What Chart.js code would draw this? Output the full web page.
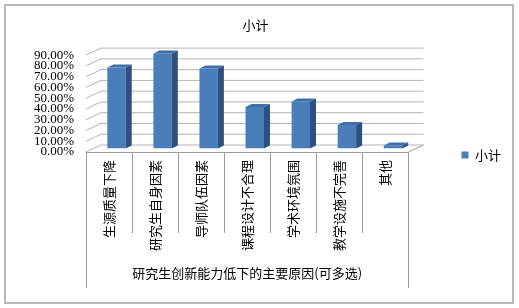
<!DOCTYPE html>
<html>
<head>
<meta charset="utf-8">
<script src="https://cdn.jsdelivr.net/npm/chart.js@4/dist/chart.umd.min.js"></script>
<style>
  html, body { margin: 0; padding: 0; background: #fff; }
  canvas { display: block; }
</style>
</head>
<body>
<canvas id="c" width="519" height="308"></canvas>
<script>
// Survey: main reasons for low innovation ability of graduate students (multiple choice)
const categories = ['生源质量下降', '研究生自身因素', '导师队伍因素', '课程设计不合理', '学术环境氛围', '教学设施不完善', '其他'];
const seriesName = '小计';
const seriesValues = [0.753, 0.883, 0.744, 0.385, 0.436, 0.219, 0.028];
const groupLabel = '研究生创新能力低下的主要原因(可多选)';
const chartTitle = '小计';

const CJK = '"Noto Sans CJK SC", "Noto Sans", sans-serif';
const SERIF = '"Liberation Serif", "DejaVu Serif", serif';

// perspective offsets: back wall relative to front plane, bars sit half way
const WALL_DX = 15, WALL_DY = -7;
const BAR_DX = 7.5, BAR_DY = -3.5;
const DEPTH_DX = 6, DEPTH_DY = -3;

const GRID = '#b4b4b4';
const AXIS = '#9c9c9c';

const walls3d = {
  id: 'walls3d',
  beforeDraw(chart) {
    const ctx = chart.ctx;
    ctx.save();
    ctx.fillStyle = '#fff';
    ctx.fillRect(0, 0, chart.width, chart.height);
    ctx.strokeStyle = '#b8b8b8';
    ctx.lineWidth = 2;
    ctx.strokeRect(5, 5, 508, 298);
    ctx.restore();
  },
  beforeDatasetsDraw(chart) {
    const ctx = chart.ctx;
    const y = chart.scales.y, x = chart.scales.x;
    const L = chart.chartArea.left, R = chart.chartArea.right, B = chart.chartArea.bottom;
    ctx.save();
    ctx.lineWidth = 1;
    ctx.strokeStyle = GRID;
    y.ticks.forEach(t => {
      const py = y.getPixelForValue(t.value);
      ctx.beginPath();
      ctx.moveTo(L, py);
      ctx.lineTo(L + WALL_DX, py + WALL_DY);
      ctx.lineTo(R + WALL_DX, py + WALL_DY);
      ctx.stroke();
    });
    // floor right edge
    ctx.strokeStyle = AXIS;
    ctx.beginPath();
    ctx.moveTo(R, B);
    ctx.lineTo(R + WALL_DX, B + WALL_DY);
    ctx.stroke();
    // front category axis
    ctx.beginPath();
    ctx.moveTo(L, Math.round(B) + 0.5);
    ctx.lineTo(R, Math.round(B) + 0.5);
    ctx.stroke();
    // category separators
    const n = categories.length;
    for (let i = 0; i <= n; i++) {
      const px = Math.round(L + (R - L) * i / n) + 0.5;
      const outer = (i === 0 || i === n);
      ctx.beginPath();
      ctx.moveTo(px, B);
      ctx.lineTo(px, outer ? x.bottom : B + 81);
      ctx.stroke();
    }
    ctx.restore();
    ctx.save();
    ctx.translate(BAR_DX, BAR_DY);
  },
  afterDatasetsDraw(chart) {
    const ctx = chart.ctx;
    const meta = chart.getDatasetMeta(0);
    meta.data.forEach(bar => {
      const p = bar.getProps(['x', 'y', 'base', 'width'], true);
      const l = p.x - p.width / 2, r = p.x + p.width / 2;
      // side face
      ctx.fillStyle = '#2d5080';
      ctx.beginPath();
      ctx.moveTo(r, p.y);
      ctx.lineTo(r + DEPTH_DX, p.y + DEPTH_DY);
      ctx.lineTo(r + DEPTH_DX, p.base + DEPTH_DY);
      ctx.lineTo(r, p.base);
      ctx.closePath();
      ctx.fill();
      // top face
      ctx.fillStyle = '#3f6ea8';
      ctx.beginPath();
      ctx.moveTo(l, p.y);
      ctx.lineTo(r, p.y);
      ctx.lineTo(r + DEPTH_DX, p.y + DEPTH_DY);
      ctx.lineTo(l + DEPTH_DX, p.y + DEPTH_DY);
      ctx.closePath();
      ctx.fill();
    });
    ctx.restore();
  }
};

new Chart(document.getElementById('c'), {
  type: 'bar',
  data: {
    labels: categories,
    datasets: [{
      label: seriesName,
      data: seriesValues,
      backgroundColor: '#4a7ebb',
      borderWidth: 0,
      categoryPercentage: 1,
      barPercentage: 0.4
    }]
  },
  options: {
    responsive: false,
    animation: false,
    layout: { padding: { left: 0, right: 8, top: 0, bottom: 20 } },
    plugins: {
      title: {
        display: true,
        text: chartTitle,
        color: '#000',
        font: { family: CJK, size: 13, weight: 'normal' },
        padding: { top: 17, bottom: 22.5 }
      },
      legend: {
        position: 'right',
        align: 'center',
        title: {
          display: true,
          text: ' ',
          font: { size: 10 },
          padding: { top: 10, bottom: 0 }
        },
        labels: {
          boxWidth: 7,
          boxHeight: 7,
          padding: 10,
          color: '#000',
          font: { family: CJK, size: 13 }
        }
      },
      tooltip: { enabled: false }
    },
    scales: {
      x: {
        grid: { display: false, drawTicks: false },
        border: { display: false },
        ticks: {
          autoSkip: false,
          minRotation: 90,
          maxRotation: 90,
          padding: 8,
          color: '#000',
          font: { family: CJK, size: 13 }
        },
        title: {
          display: true,
          text: groupLabel,
          color: '#000',
          font: { family: CJK, size: 13 },
          padding: { top: 0, bottom: 7 }
        },
        afterFit(s) { s.height = 136; }
      },
      y: {
        min: 0,
        max: 0.9,
        grid: { display: false, drawTicks: false },
        border: { display: false },
        ticks: {
          stepSize: 0.1,
          autoSkip: false,
          padding: 12,
          color: '#000',
          font: { family: SERIF, size: 13 },
          callback: v => (v * 100).toFixed(2) + '%'
        },
        afterFit(s) { s.width = 86; }
      },
      y2: {
        position: 'right',
        display: true,
        grid: { display: false, drawTicks: false },
        border: { display: false },
        ticks: { display: false },
        afterFit(s) { s.width = 43; }
      }
    }
  },
  plugins: [walls3d]
});
</script>
</body>
</html>
